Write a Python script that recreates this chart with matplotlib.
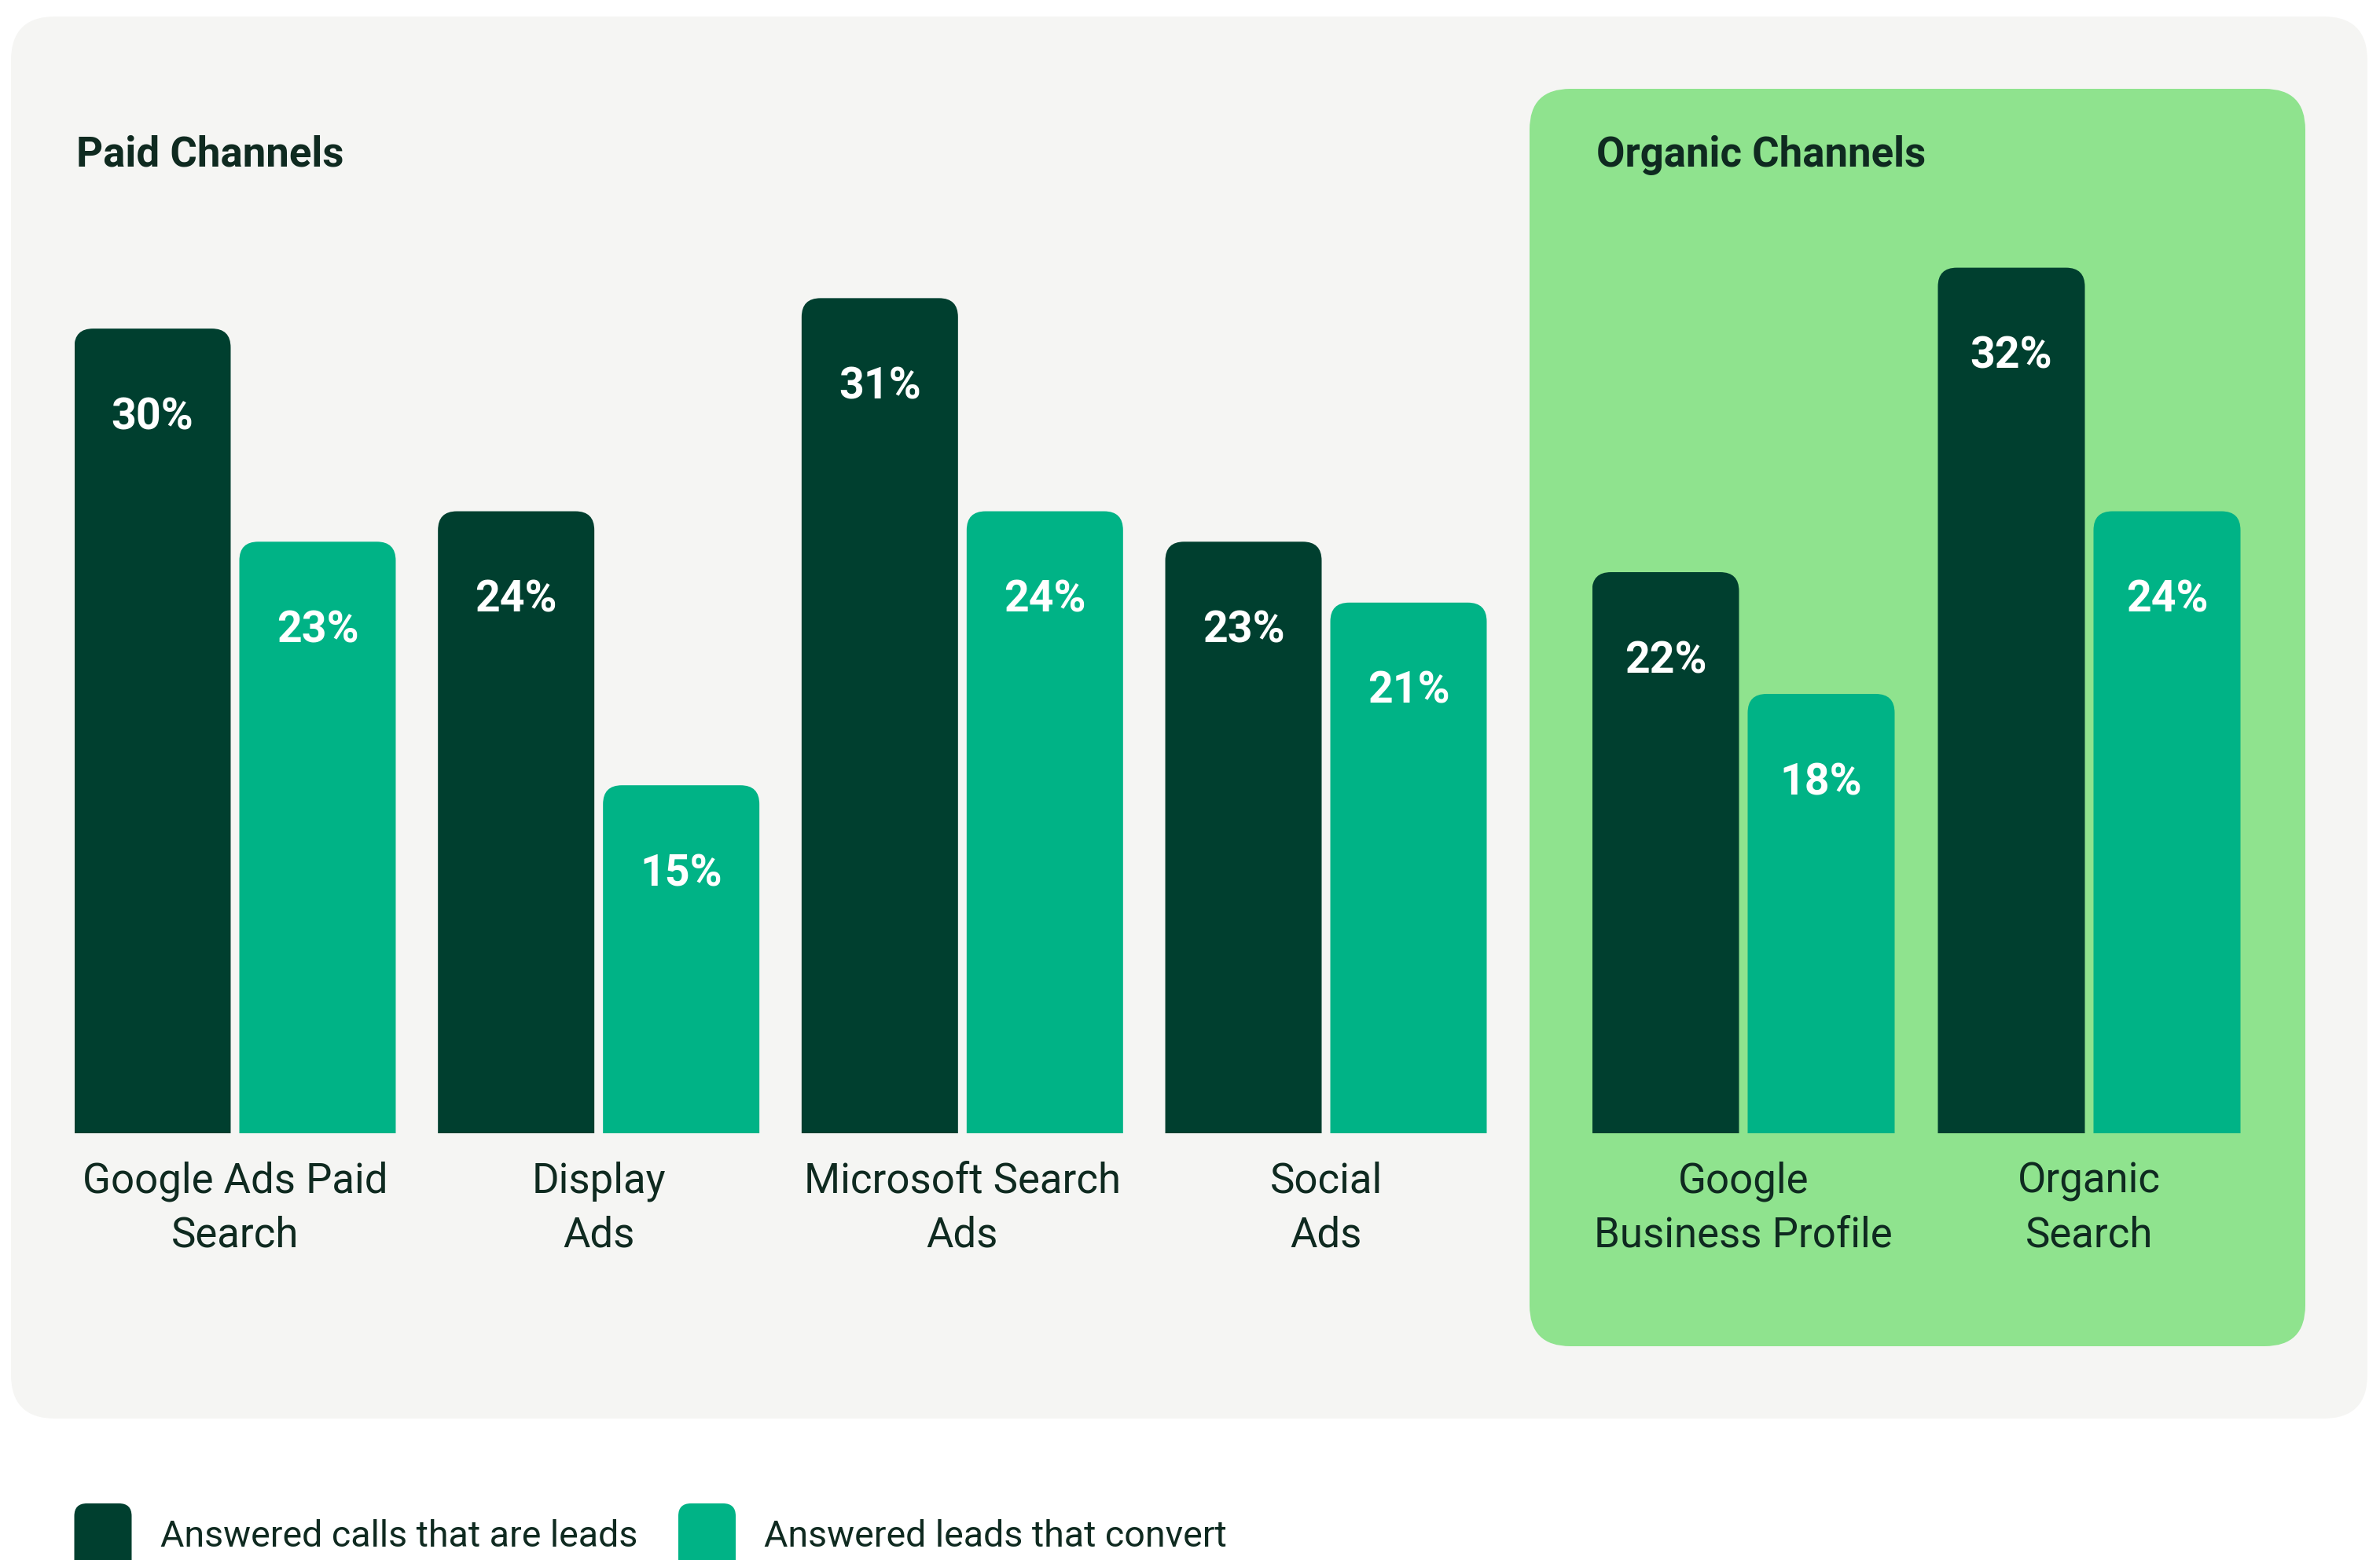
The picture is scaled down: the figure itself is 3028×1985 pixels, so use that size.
import matplotlib
matplotlib.use("Agg")
import matplotlib.pyplot as plt
import numpy as np
from matplotlib.patches import FancyBboxPatch

# chart data
paid_channels = ["Google Ads Paid\nSearch", "Display\nAds", "Microsoft Search\nAds", "Social\nAds"]
paid_leads = [30, 24, 31, 23]
paid_convert = [23, 15, 24, 21]

organic_channels = ["Google\nBusiness Profile", "Organic\nSearch"]
organic_leads = [22, 32]
organic_convert = [18, 24]

series_names = ["Answered calls that are leads", "Answered leads that convert"]
section_titles = ["Paid Channels", "Organic Channels"]

DARK = "#003f2f"
TEAL = "#00b386"
PANEL = "#f5f5f3"
GREEN = "#8fe38e"
INK = "#0f2a20"

W, H = 3028, 1985
DPI = 100
plt.rcParams['font.family'] = ['Roboto', 'DejaVu Sans']

fig = plt.figure(figsize=(W / DPI, H / DPI), dpi=DPI)
fig.patch.set_facecolor('white')

# background axes in pixel units
bg = fig.add_axes([0, 0, 1, 1])
bg.set_xlim(0, W)
bg.set_ylim(H, 0)
bg.axis('off')
bg.add_patch(FancyBboxPatch((14, 21), 2998, 1784, boxstyle="round,pad=0,rounding_size=56",
                            fc=PANEL, ec='none'))
bg.add_patch(FancyBboxPatch((1946, 113), 987, 1600, boxstyle="round,pad=0,rounding_size=52",
                            fc=GREEN, ec='none'))

# y scale: bars start at 0, visible part begins at Y0
Y0, Y1 = 3.57, 34
PX_PER_PCT = 38.74
base_px = 1442
top_px = base_px - PX_PER_PCT * (Y1 - Y0)


def make_axes(left_px, right_px):
    ax = fig.add_axes([left_px / W, 1 - base_px / H, (right_px - left_px) / W, (base_px - top_px) / H])
    ax.set_facecolor('none')
    ax.axis('off')
    return ax


def draw_group(ax, labels, leads, convert, pitch_px, bar_px, gap_px):
    x = np.arange(len(labels))
    bw = bar_px / pitch_px
    off = (bar_px + gap_px) / 2 / pitch_px
    ext = off + bw / 2
    ax.set_xlim(-ext, len(labels) - 1 + ext)
    ax.set_ylim(Y0, Y1)
    aspect = pitch_px / PX_PER_PCT
    r = 24 / pitch_px
    for xs, vals, col in ((x - off, leads, DARK), (x + off, convert, TEAL)):
        bars = ax.bar(xs, vals, bw, color=col)
        for rect, v in zip(bars, vals):
            rx, ry, rw, rh = rect.get_x(), rect.get_y(), rect.get_width(), rect.get_height()
            rect.set_visible(False)
            ax.add_patch(FancyBboxPatch((rx, ry), rw, rh,
                                        boxstyle=f"round,pad=0,rounding_size={r}",
                                        mutation_aspect=aspect, fc=col, ec='none'))
            ax.annotate(f"{v}%", xy=(rx + rw / 2, v), xytext=(0, -81.5), textcoords='offset points',
                        ha='center', va='center', color='white', fontsize=40, fontweight='bold')
    # category names, last line baseline anchored
    for xi, lab in zip(x, labels):
        ax.annotate(lab, xy=(xi, 0), xycoords=('data', 'axes fraction'), xytext=(0, -103.7),
                    textcoords='offset points', ha='center', va='baseline', color=INK,
                    fontsize=38, linespacing=1.43, annotation_clip=False)


ax_paid = make_axes(94.5, 1891.5)
draw_group(ax_paid, paid_channels, paid_leads, paid_convert, 462.7, 199, 11)

ax_org = make_axes(2025.5, 2850.5)
draw_group(ax_org, organic_channels, organic_leads, organic_convert, 440, 187, 11)

# section titles
bg.text(97, 212, section_titles[0], fontsize=38, fontweight='bold', color=INK, va='baseline', ha='left')
bg.text(2031, 212, section_titles[1], fontsize=38, fontweight='bold', color=INK, va='baseline', ha='left')

# legend
for sx, tx, col, name in ((94.5, 204, DARK, series_names[0]), (863, 972, TEAL, series_names[1])):
    bg.add_patch(FancyBboxPatch((sx, 1913), 73, 140, boxstyle="round,pad=0,rounding_size=16",
                                fc=col, ec='none'))
    bg.text(tx, 1968, name, fontsize=33.5, color=INK, va='baseline', ha='left')

fig.savefig("out.png", dpi=DPI, facecolor='white')
